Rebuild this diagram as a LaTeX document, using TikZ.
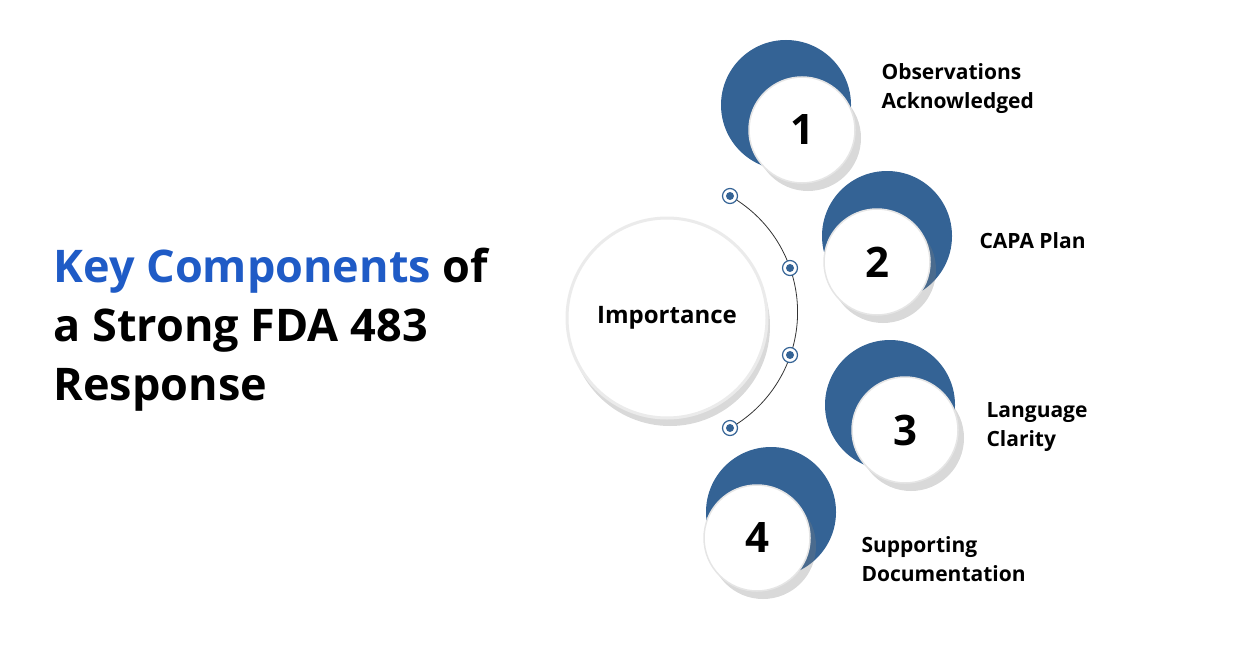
\documentclass[tikz,border=0pt]{standalone}
\usepackage{fontspec}
\setmainfont{Open Sans}
\usetikzlibrary{shadows}
\definecolor{stepblue}{HTML}{346395}
\definecolor{titleblue}{HTML}{1F5BC6}
\tikzset{
  backdisc/.style={circle,fill=stepblue,minimum size=130pt,inner sep=0pt},
  numdisc/.style={circle,fill=white,draw=black!10,line width=1.5pt,minimum size=106pt,inner sep=0pt,
    drop shadow={shadow xshift=6pt,shadow yshift=-8pt,opacity=0.3},font=\fontsize{42}{42}\selectfont\bfseries},
  steplabel/.style={anchor=west,align=left,font=\fontsize{21}{29}\selectfont\bfseries},
  ringdot/.style={circle,draw=stepblue,fill=white,line width=1.2pt,minimum size=15pt,inner sep=0pt,
    path picture={\fill[stepblue] (path picture bounding box.center) circle (4pt);}}
}
\begin{document}
\begin{tikzpicture}[x=1pt,y=-1pt]
\useasboundingbox (0,0) rectangle (1260,658);
% title
\node[anchor=west,align=left,font=\fontsize{45}{59}\selectfont\bfseries] (title) at (50,330)
  {\textcolor{titleblue}{Key Components} of\\a Strong FDA 483\\Response};
% centre
\node[circle,fill=white,draw=black!8,line width=3pt,minimum size=200pt,
  drop shadow={shadow xshift=3pt,shadow yshift=-8pt,opacity=0.3},font=\fontsize{24}{24}\selectfont\bfseries] (imp) at (667,318) {Importance};
\draw[black!80,line width=0.8pt] (730,196) arc[start angle=-60.4,end angle=60.4,radius=133.5];
\node[ringdot] (d1) at (730,196) {};
\node[ringdot] (d2) at (790,268) {};
\node[ringdot] (d3) at (790,355) {};
\node[ringdot] (d4) at (730,428) {};
% steps
\node[backdisc] (b1) at (786,105) {};
\node[numdisc] (n1) at (802,130) {1};
\node[backdisc] (b2) at (887,236) {};
\node[numdisc] (n2) at (877,262) {2};
\node[backdisc] (b3) at (890,405) {};
\node[numdisc] (n3) at (905,430) {3};
\node[backdisc] (b4) at (771,512) {};
\node[numdisc] (n4) at (757,538) {4};
\node[steplabel] (l1) at (878,89) {Observations\\Acknowledged};
\node[steplabel] (l2) at (976,241) {CAPA Plan};
\node[steplabel] (l3) at (983,427) {Language\\Clarity};
\node[steplabel] (l4) at (858,559) {Supporting\\Documentation};
\end{tikzpicture}
\end{document}
